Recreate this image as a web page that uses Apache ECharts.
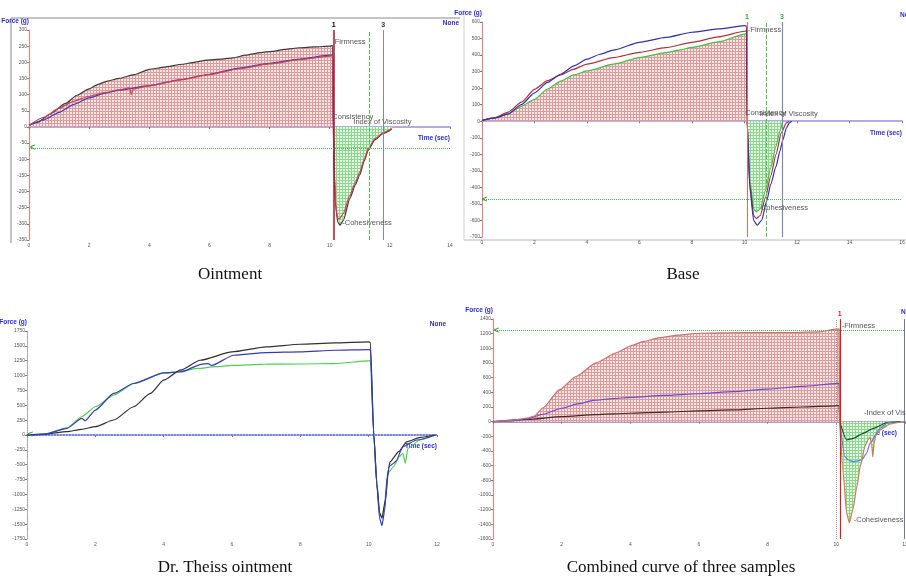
<!DOCTYPE html>
<html>
<head>
<meta charset="utf-8">
<script src="https://cdn.jsdelivr.net/npm/echarts@6/dist/echarts.min.js"></script>
<style>
html, body { margin: 0; background: #fff; }
#chart { width: 906px; height: 583px; }
</style>
</head>
<body>
<div id="chart"></div>
<script>
// panel captions
const captions = ['Ointment', 'Base', 'Dr. Theiss ointment', 'Combined curve of three samples']

// Ointment: [time (sec), force (g)]
const ointBlack = [[0,5],[0.3,15],[0.7,40],[1.2,72],[1.6,98],[2,118],[2.3,132],[2.6,142],[3,150],[3.5,162],[4,178],[4.5,185],[5.1,194],[5.5,200],[5.9,207],[6.4,210],[6.8,214],[7.2,222],[7.7,230],[8.1,234],[8.5,240],[9,245],[9.5,248],[10,250],[10.1,252],
  [10.12,0],[10.15,-150],[10.2,-250],[10.27,-295],[10.34,-304],[10.45,-290],[10.67,-222],[10.85,-180],[11,-148],[11.15,-105],[11.28,-72],[11.5,-40],[11.78,-20],[12.06,-7]]
const ointRed = [[0,5],[0.5,30],[1,58],[1.5,80],[2,95],[2.5,106],[3,115],[3.35,121],[3.4,100],[3.47,118],[4,127],[5,145],[6,162],[7,180],[8,195],[9,208],[10,219],[10.1,220],
  [10.12,0],[10.15,-140],[10.2,-240],[10.26,-282],[10.32,-285],[10.45,-268],[10.67,-212],[10.85,-172],[11,-140],[11.15,-100],[11.28,-68],[11.5,-37],[11.78,-18],[12.06,-5]]
const ointBlue = [[0,5],[0.5,22],[1,45],[1.5,70],[2,90],[2.5,104],[3,114],[4,128],[5,146],[6,163],[7,182],[8,197],[9,210],[10,222],[10.1,222],[10.12,0]]

// Base
const baseBlue = [[0,5],[0.5,20],[1,45],[1.5,100],[2,172],[2.5,235],[3,284],[3.5,335],[4,375],[4.5,405],[5,430],[6,477],[7,507],[8,538],[9,558],[10,578],[10.08,575],
  [10.1,0],[10.2,-400],[10.35,-600],[10.48,-629],[10.65,-600],[10.85,-480],[11,-380],[11.2,-274],[11.35,-180],[11.46,-112],[11.6,-40],[11.71,-10],[11.8,0]]
const baseRed = [[0,5],[0.5,22],[1,55],[1.5,115],[2,193],[2.5,245],[3,280],[3.5,315],[4,345],[5,385],[6,416],[7,445],[8,477],[9,510],[10,544],[10.08,545],
  [10.1,0],[10.2,-380],[10.35,-570],[10.45,-588],[10.6,-570],[10.8,-460],[11,-330],[11.2,-200],[11.4,-70],[11.6,-10],[11.7,0]]
const baseGreen = [[0,5],[0.5,20],[1,45],[1.5,90],[2,132],[2.5,195],[3,243],[3.5,280],[4,304],[5,345],[6,385],[7,415],[7.5,430],[8,446],[9,480],[10,527],[10.08,530],
  [10.1,0],[10.2,-350],[10.35,-530],[10.45,-548],[10.6,-530],[10.8,-420],[11,-280],[11.2,-150],[11.35,-60],[11.46,0]]

// Dr. Theiss ointment
const drBlack = [[0,0],[0.5,15],[1.17,56],[1.6,95],[2,140],[2.54,252],[3.12,475],[3.61,699],[4,923],[4.49,1090],[5.07,1258],[6,1398],[7,1482],[8,1527],[9,1549],[10,1566],[10.05,1560],
  [10.15,0],[10.24,-811],[10.32,-1314],[10.39,-1398],[10.49,-1090],[10.59,-531],[10.63,-447],[10.88,-280],[11.12,-112],[11.51,-39],[11.95,0]]
const drBlue = [[0,0],[0.5,12],[1.17,112],[1.6,280],[1.7,240],[2,420],[2.54,699],[3.12,867],[4,1046],[4.5,1060],[5.1,1190],[5.3,1202],[5.4,1170],[6.05,1342],[7,1387],[8,1400],[9,1426],[10,1437],[10.05,1435],
  [10.15,0],[10.24,-850],[10.32,-1400],[10.39,-1527],[10.46,-1300],[10.55,-700],[10.6,-531],[10.73,-475],[10.8,-440],[11,-196],[11.41,-84],[11.95,0]]
const drGreen = [[0,0],[0.5,15],[1.17,120],[1.6,307],[2,475],[2.54,671],[3.12,867],[4,1040],[4.5,1070],[5,1120],[5.5,1150],[6,1170],[7,1191],[8,1195],[9,1202],[10,1247],[10.05,1245],
  [10.15,0],[10.24,-820],[10.32,-1300],[10.39,-1398],[10.46,-1200],[10.55,-650],[10.73,-531],[10.9,-363],[11,-307],[11.07,-475],[11.15,-224],[11.5,-84],[11.95,0]]

// Combined curve of three samples
const combRed = [[0,0],[0.5,15],[1,50],[1.2,75],[1.46,190],[1.94,436],[2.43,619],[3,803],[3.6,940],[4,1032],[4.4,1095],[4.86,1147],[5.4,1180],[6,1206],[7.3,1216],[8.75,1216],[9.5,1225],[10,1261],[10.08,1265],
  [10.1,0],[10.2,-700],[10.3,-1250],[10.38,-1378],[10.48,-1200],[10.6,-887],[10.7,-600],[10.84,-330],[10.93,-240],[10.98,-215],[11.03,-300],[11.06,-480],[11.1,-300],[11.15,-190],[11.27,-114],[11.57,-32],[11.86,-5],[12,0]]
const combPurple = [[0,0],[0.5,8],[1,40],[1.46,101],[2,183],[2.5,245],[2.92,290],[3.5,315],[4,330],[5,358],[6,381],[7,410],[8,445],[9,480],[10,520],[10.08,522],
  [10.1,0],[10.25,-477],[10.35,-523],[10.5,-545],[10.74,-523],[10.88,-432],[10.98,-296],[11.27,-91],[11.5,-14],[11.7,0]]
const combBlack = [[0,0],[1,30],[2,69],[3,95],[4,115],[5,130],[6,147],[7,160],[8,183],[9,200],[10,216],[10.08,218],
  [10.1,0],[10.3,-250],[10.5,-228],[10.78,-159],[11.08,-91],[11.47,-14],[11.86,0]]

// axis ranges per panel: [xMax, yMin, yMax, yStep]
const ranges = [[14, -350, 300, 50], [16, -700, 600, 100], [12, -1750, 1750, 250], [12, -1600, 1400, 200]]

function hatch(bg, fg) {
  const c = document.createElement('canvas')
  c.width = 3
  c.height = 3
  const g = c.getContext('2d')
  g.fillStyle = bg
  g.fillRect(0, 0, 3, 3)
  g.fillStyle = fg
  g.fillRect(0, 0, 3, 1)
  g.fillRect(0, 0, 1, 3)
  return { image: c, repeat: 'repeat' }
}
const pink = hatch('#f8e6e6', '#dc9c9c')
const green = hatch('#e8f8e8', '#8cd88c')

const before = (arr, t) => arr.filter(p => p[0] <= t)
const after = (arr, t) => arr.filter(p => p[0] >= t)

function curve(i, data, color, extra) {
  return Object.assign({
    type: 'line', xAxisIndex: i, yAxisIndex: i, data: data,
    symbol: 'none', smooth: 0.2, smoothMonotone: 'x', silent: true, z: 3,
    lineStyle: { color: color, width: 1.2 }
  }, extra || {})
}
function fill(i, data, pattern, extra) {
  return Object.assign({
    type: 'line', xAxisIndex: i, yAxisIndex: i, data: data,
    symbol: 'none', smooth: 0.2, smoothMonotone: 'x', silent: true, z: 1,
    lineStyle: { width: 0 }, areaStyle: { color: pattern, opacity: 1 }
  }, extra || {})
}

const noteFont = { show: true, position: 'right', distance: 2, color: '#555', fontSize: 7.5, fontFamily: 'Liberation Sans' }
// [coord, text] notes, plus the green start arrow of the horizontal cursor
function notes(items, arrow) {
  const data = items.map(n => ({ coord: n[0], label: { formatter: n[1] } }))
  data.push({ coord: arrow, label: { formatter: '<', position: 'inside', color: '#30a030', fontWeight: 'bold', fontSize: 9 } })
  return { symbol: 'circle', symbolSize: 0, silent: true, label: noteFont, data: data }
}
function vline(x, color, type, width, tag, tagColor) {
  return {
    xAxis: x, lineStyle: { color: color, type: type, width: width || 1 },
    label: tag ? { show: true, position: 'end', formatter: tag, color: tagColor || color, fontSize: 7, fontWeight: 'bold', distance: 1 } : { show: false }
  }
}
function hline(y) {
  return { yAxis: y, lineStyle: { color: '#4caa4c', type: 'dotted', width: 1 }, label: { show: false } }
}
function marks(lines) {
  return { symbol: ['none', 'none'], silent: true, animation: false, label: { show: false }, data: lines }
}

// grid boxes in pixels
const grids = [
  { left: 29, top: 30, width: 421, height: 210 },
  { left: 482, top: 22, width: 420, height: 215 },
  { left: 27, top: 331, width: 410, height: 208 },
  { left: 493, top: 319, width: 412, height: 220 }
].map(g => Object.assign(g, { outerBoundsMode: 'none', containLabel: false }))

const yLineColors = ['#d88a8a', '#d88a8a', '#aaaaaa', '#d88a8a']
const xLineColors = ['#9a90d8', '#9a90d8', '#4a60d0', '#9a70c0']
const timeGap = [0, 0, 0, -8]

const xAxis = ranges.map((r, i) => ({
  gridIndex: i, type: 'value', min: 0, max: r[0], interval: 2,
  name: 'Time (sec)', nameLocation: 'end', nameGap: timeGap[i],
  nameTextStyle: { color: '#2a2ad0', fontSize: 6.5, fontWeight: 'bold', align: 'right', verticalAlign: 'top', padding: [8, 0, 0, 0] },
  axisLine: { onZero: true, lineStyle: { color: xLineColors[i], width: 1.5, type: i === 2 ? 'dotted' : 'solid' } },
  axisTick: { length: 2, lineStyle: { color: '#777' } },
  axisLabel: { fontSize: 5, color: '#555', margin: 3, formatter: v => String(v) },
  splitLine: { show: false }
}))
const yAxis = ranges.map((r, i) => ({
  gridIndex: i, type: 'value', min: r[1], max: r[2], interval: r[3],
  name: 'Force (g)', nameLocation: 'end', nameGap: 5,
  nameTextStyle: { color: '#2a2ad0', fontSize: 6.5, fontWeight: 'bold', align: 'right' },
  axisLine: { onZero: false, lineStyle: { color: yLineColors[i], width: 1.2, type: i === 2 ? 'dotted' : 'solid' } },
  axisTick: { length: 2, lineStyle: { color: '#777' } },
  axisLabel: { fontSize: 5, color: '#555', margin: 2, formatter: v => String(v) },
  splitLine: { show: false }
}))

const series = [
  // Ointment
  fill(0, before(ointBlack, 10.12), pink, {
    markLine: marks([
      vline(10.13, '#b01030', 'solid', 1.5, '1', '#000'),
      vline(11.32, '#50c050', 'dashed', 1),
      vline(11.78, '#8088b0', 'solid', 1, '3', '#333'),
      hline(-65)
    ]),
    markPoint: notes([[[10.1, 262], 'Firmness'], [[10.02, 31], 'Consistency'], [[10.72, 16], 'Index of Viscosity'], [[10.35, -298], '-Cohesiveness']], [0.12, -65])
  }),
  fill(0, after(ointBlack, 10.12), green),
  curve(0, ointBlack, '#3a3a3a'),
  curve(0, ointBlue, '#3a40b8'),
  curve(0, ointRed, '#d04050'),

  // Base
  fill(1, before(baseGreen, 10.1), pink, {
    markLine: marks([
      vline(10.09, '#d87060', 'solid', 1, '1', '#30b030'),
      vline(10.82, '#50c050', 'dashed', 1),
      vline(11.43, '#8088b0', 'solid', 1.2, '3', '#30b030'),
      hline(-473)
    ]),
    markPoint: notes([[[10.05, 552], '-Firmness'], [[9.95, 52], 'Consistency'], [[10.5, 45], 'Index of Viscosity'], [[10.55, -525], 'Cohesiveness']], [0.1, -473])
  }),
  fill(1, after(baseGreen, 10.1), green),
  curve(1, baseGreen, '#40c040'),
  curve(1, baseRed, '#b03038'),
  curve(1, baseBlue, '#3030b0'),

  // Dr. Theiss ointment
  curve(2, drGreen, '#50d050', { markPoint: notes([], [0.1, 0]) }),
  curve(2, drBlack, '#303030'),
  curve(2, drBlue, '#3838b8'),

  // Combined
  fill(3, before(combRed, 10.1), pink, {
    markLine: marks([
      vline(10.0, '#999', 'dotted', 1),
      vline(10.1, '#d02020', 'solid', 1.2, '1', '#e02020'),
      vline(11.97, '#7078a0', 'solid', 1),
      hline(1248)
    ]),
    markPoint: notes([[[10.1, 1305], '-Firmness'], [[10.75, 120], '-Index of Viscosity'], [[10.45, -1340], '-Cohesiveness']], [0.1, 1248])
  }),
  fill(3, after(combRed, 10.1), green),
  curve(3, before(combBlack, 10.1), '#402828'),
  curve(3, after(combBlack, 10.1), '#1e4a28'),
  curve(3, before(combPurple, 10.1), '#6a4cc8'),
  curve(3, after(combPurple, 10.1), '#4a8ad8'),
  curve(3, before(combRed, 10.1), '#c87070'),
  curve(3, after(combRed, 10.1), '#d07858')
]

const captionPos = [[230, 275], [683, 275], [225, 568], [681, 568]]
const graphic = captions.map((c, i) => ({
  type: 'text', x: captionPos[i][0], y: captionPos[i][1], silent: true,
  style: { text: c, align: 'center', verticalAlign: 'middle', font: '17px "Liberation Serif"', fill: '#111' }
})).concat([
  { type: 'text', x: 459, y: 23, style: { text: 'None', align: 'right', verticalAlign: 'middle', font: 'bold 6.5px "Liberation Sans"', fill: '#2a2ad0' } },
  { type: 'text', x: 900, y: 15, style: { text: 'None', align: 'left', verticalAlign: 'middle', font: 'bold 6.5px "Liberation Sans"', fill: '#2a2ad0' } },
  { type: 'text', x: 446, y: 324, style: { text: 'None', align: 'right', verticalAlign: 'middle', font: 'bold 6.5px "Liberation Sans"', fill: '#2a2ad0' } },
  { type: 'text', x: 901, y: 312, style: { text: 'None', align: 'left', verticalAlign: 'middle', font: 'bold 6.5px "Liberation Sans"', fill: '#2a2ad0' } },
  // screenshot frame edges
  { type: 'line', shape: { x1: 11, y1: 18, x2: 460, y2: 18 }, style: { stroke: '#8a8a8a', lineWidth: 1 } },
  { type: 'line', shape: { x1: 11, y1: 18, x2: 11, y2: 243 }, style: { stroke: '#8a8a8a', lineWidth: 1 } },
  { type: 'line', shape: { x1: 464, y1: 10, x2: 464, y2: 240 }, style: { stroke: '#d0d0d0', lineWidth: 1 } },
  { type: 'line', shape: { x1: 464, y1: 240, x2: 906, y2: 240 }, style: { stroke: '#d8dce4', lineWidth: 2 } }
])

const chart = echarts.init(document.getElementById('chart'))
chart.setOption({
  animation: false,
  backgroundColor: '#fff',
  textStyle: { fontFamily: 'Liberation Sans' },
  grid: grids,
  xAxis: xAxis,
  yAxis: yAxis,
  series: series,
  graphic: graphic
})
</script>
</body>
</html>
